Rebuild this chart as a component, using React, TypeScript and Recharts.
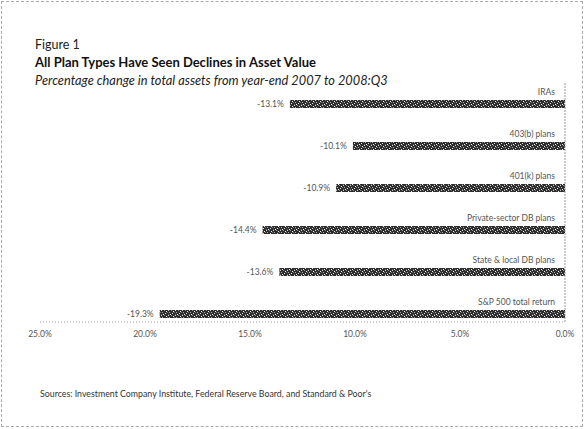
import React from "react";
import { BarChart, Bar, XAxis, YAxis, LabelList } from "recharts";

const categories = ["IRAs", "403(b) plans", "401(k) plans", "Private-sector DB plans", "State & local DB plans", "S&P 500 total return"];
const changes = [-13.1, -10.1, -10.9, -14.4, -13.6, -19.3];
const xTicks = [-25, -20, -15, -10, -5, 0];

const data = categories.map((name, i) => ({ name, value: changes[i] }));

const FONT = "Lato, 'Open Sans', sans-serif";

const pct = (v: number) => `${Math.abs(v).toFixed(1)}%`;

// speckled fill like the scanned bars
const speckles = [
  [0, 0, "#cfcfcf"], [3, 0, "#888"], [5, 1, "#eee"], [1, 2, "#aaa"],
  [4, 3, "#ddd"], [6, 2, "#777"], [2, 4, "#f4f4f4"], [0, 4, "#666"],
];

function ValueLabel(props: any) {
  const { x, y, width, height, value } = props;
  const left = Math.min(x, x + width);
  return (
    <text x={left - 6} y={y + height / 2} dy="0.35em" textAnchor="end" fontSize={8.5} fill="#555" fontFamily={FONT}>
      {value.toFixed(1)}%
    </text>
  );
}

function NameLabel(props: any) {
  const { x, y, width, value } = props;
  const right = Math.max(x, x + width);
  return (
    <text x={right - 10} y={y - 5} textAnchor="end" fontSize={8.5} fill="#555" fontFamily={FONT}>
      {value}
    </text>
  );
}

export default function App() {
  return (
    <div style={{ position: "relative", width: 585, height: 429, background: "#fff", fontFamily: FONT }}>
      <style>{`body{margin:0}`}</style>
      <div style={{ position: "absolute", left: 1, top: 1, width: 580, height: 424, border: "1px dashed #aaa" }} />

      <div style={{ position: "absolute", left: 35, top: 37, fontSize: 12.5, color: "#222" }}>Figure 1</div>
      <div style={{ position: "absolute", left: 35, top: 54, fontSize: 13, fontWeight: 700, color: "#111" }}>
        All Plan Types Have Seen Declines in Asset Value
      </div>
      <div style={{ position: "absolute", left: 35, top: 72, fontSize: 12.8, fontStyle: "italic", color: "#222" }}>
        Percentage change in total assets from year-end 2007 to 2008:Q3
      </div>

      <div style={{ position: "absolute", left: 0, top: 0 }}>
        <BarChart
          width={585}
          height={350}
          data={data}
          layout="vertical"
          margin={{ top: 83, right: 19, bottom: 8, left: 40 }}
        >
          <defs>
            <pattern id="dither" width="7" height="5" patternUnits="userSpaceOnUse">
              <rect width="7" height="5" fill="#2e2e2e" />
              {speckles.map(([sx, sy, c], i) => (
                <rect key={i} x={sx as number} y={sy as number} width="1" height="1" fill={c as string} />
              ))}
            </pattern>
          </defs>
          <XAxis
            type="number"
            domain={[-25, 0]}
            ticks={xTicks}
            tickFormatter={pct}
            axisLine={{ stroke: "#999", strokeDasharray: "1 2" }}
            tickLine={false}
            tickSize={0}
            tickMargin={9}
            height={20}
            tick={{ fontSize: 8.5, fill: "#555", fontFamily: FONT }}
            interval={0}
          />
          <YAxis
            type="category"
            dataKey="name"
            orientation="right"
            width={1}
            tick={false}
            tickLine={false}
            axisLine={{ stroke: "#999", strokeDasharray: "2 1" }}
            padding={{ top: 0, bottom: -13 }}
          />
          <Bar dataKey="value" fill="url(#dither)" barSize={8} isAnimationActive={false}>
            <LabelList dataKey="value" content={<ValueLabel />} />
            <LabelList dataKey="name" content={<NameLabel />} />
          </Bar>
        </BarChart>
      </div>

      <div style={{ position: "absolute", left: 40, top: 388, fontSize: 8.8, color: "#333" }}>
        Sources: Investment Company Institute, Federal Reserve Board, and Standard &amp; Poor's
      </div>
    </div>
  );
}
